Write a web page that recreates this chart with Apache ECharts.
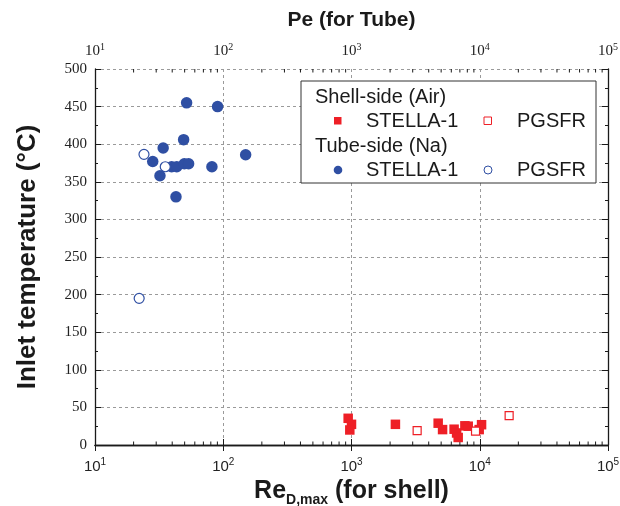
<!DOCTYPE html>
<html><head><meta charset="utf-8">
<script src="https://cdn.jsdelivr.net/npm/echarts@6/dist/echarts.min.js"></script>
<style>html,body{margin:0;padding:0;background:#fff}#c{width:620px;height:506px}</style>
</head><body><div id="c"></div>
<script>
// Shell-side (Air): [Re_D,max, inlet temperature °C]
const shellStella = [[942,35.5],[1000,27.5],[970,20],[2200,27.5],[4740,29],[5130,20.5],[6310,21],[6600,16],[6790,10],[7660,25.5],[8130,25],[9900,20.5],[10330,27]];
const shellPgsfr = [[3250,19],[9270,18.5],[16950,39]];
// Tube-side (Na): [Pe, inlet temperature °C]
const tubeStella = [[51.8,455],[90.3,450],[49.1,406],[34.0,395],[149.5,386],[28.2,377],[39.6,370],[43.4,370],[49.7,374],[53.7,374],[81.6,370],[32.1,358],[42.8,330]];
const tubePgsfr = [[24.1,386.5],[35.3,370],[22.1,195]];
// axis settings
const xMin = 10, xMax = 100000;
const yMin = 0, yMax = 500, yStep = 50;
const minorX = [];
for (let d = 10; d < xMax; d *= 10) for (let k = 2; k <= 9; k++) minorX.push(d * k);

const RED = '#ee1f26', BLUE = '#2f4fa3', AX = '#1a1a1a';
const serif = '"Liberation Serif", "Times New Roman", serif';
const sans = '"Liberation Sans", Arial, sans-serif';

function expLabel(v){ return '10{sup|' + Math.round(Math.log10(v)) + '}'; }

const chart = echarts.init(document.getElementById('c'), null, {renderer:'canvas'});
const gridLine = {show:true, lineStyle:{color:'#9a9a9a', type:[3,3], width:1}};
chart.setOption({
  animation:false,
  grid:{left:95, right:12, top:69, bottom:61, outerBoundsMode:'none', containLabel:false},
  xAxis:[
    {type:'log', min:xMin, max:xMax, logBase:10, position:'bottom',
     name:'Re{sub|D,max} (for shell)', nameLocation:'middle', nameGap:26,
     nameTextStyle:{fontFamily:sans, fontWeight:'bold', fontSize:25, color:'#1a1a1a',
       rich:{sub:{fontFamily:sans, fontWeight:'bold', fontSize:14, padding:[17,0,0,0], color:'#1a1a1a'}}},
     axisLine:{show:true, lineStyle:{color:AX, width:1.3}},
     axisTick:{show:true, inside:true, length:6, lineStyle:{color:AX}},
     axisLabel:{formatter:expLabel, fontFamily:sans, fontSize:15, color:'#222', margin:12,
       rich:{sup:{fontFamily:sans, fontSize:10, color:'#222', padding:[0,0,9,0]}}},
     splitLine:gridLine},
    {type:'log', min:xMin, max:xMax, logBase:10, position:'top',
     name:'Pe (for Tube)', nameLocation:'middle', nameGap:38,
     nameTextStyle:{fontFamily:sans, fontWeight:'bold', fontSize:21, color:'#1a1a1a'},
     axisLine:{show:true, lineStyle:{color:AX, width:1.3}},
     axisTick:{show:true, inside:true, length:6, lineStyle:{color:AX}},
     axisLabel:{formatter:expLabel, fontFamily:serif, fontSize:15, color:'#222', margin:8,
       rich:{sup:{fontFamily:serif, fontSize:10, color:'#222', padding:[0,0,9,0]}}},
     splitLine:{show:false}}
  ],
  yAxis:[
    {type:'value', min:yMin, max:yMax, interval:yStep, position:'left',
     name:'Inlet temperature (°C)', nameLocation:'middle', nameGap:54,
     nameTextStyle:{fontFamily:sans, fontWeight:'bold', fontSize:26, color:'#1a1a1a'},
     axisLine:{show:true, lineStyle:{color:AX, width:1.3}},
     axisTick:{show:true, inside:true, length:6, lineStyle:{color:AX}},
     minorTick:{show:true, splitNumber:2, length:3, lineStyle:{color:AX}},
     axisLabel:{fontFamily:serif, fontSize:15, color:'#222', margin:8},
     splitLine:gridLine},
    {type:'value', min:yMin, max:yMax, interval:yStep, position:'right',
     axisLine:{show:true, lineStyle:{color:AX, width:1.3}},
     axisTick:{show:true, inside:true, length:6, lineStyle:{color:AX}},
     minorTick:{show:true, splitNumber:2, length:3, lineStyle:{color:AX}},
     axisLabel:{show:false}, splitLine:{show:false}}
  ],
  series:[
    {type:'custom', xAxisIndex:0, yAxisIndex:0, silent:true, z:1,
     data:minorX.map(v=>[v]),
     renderItem:function(params, api){
       const v = api.value(0);
       const b = api.coord([v, yMin]), t = api.coord([v, yMax]);
       const st = {stroke:AX, lineWidth:1};
       return {type:'group', children:[
         {type:'line', shape:{x1:b[0], y1:b[1], x2:b[0], y2:b[1]-3.5}, style:st},
         {type:'line', shape:{x1:t[0], y1:t[1], x2:t[0], y2:t[1]+3.5}, style:st}
       ]};
     }},
    {name:'Tube STELLA-1', type:'scatter', xAxisIndex:1, yAxisIndex:0, data:tubeStella,
     symbol:'circle', symbolSize:11.5, itemStyle:{color:BLUE, opacity:1}, z:3},
    {name:'Tube PGSFR', type:'scatter', xAxisIndex:1, yAxisIndex:0, data:tubePgsfr,
     symbol:'circle', symbolSize:10, itemStyle:{color:'#fff', borderColor:BLUE, borderWidth:1.2, opacity:1}, z:4},
    {name:'Shell STELLA-1', type:'scatter', xAxisIndex:0, yAxisIndex:0, data:shellStella,
     symbol:'rect', symbolSize:9.5, itemStyle:{color:RED, opacity:1}, z:3},
    {name:'Shell PGSFR', type:'scatter', xAxisIndex:0, yAxisIndex:0, data:shellPgsfr,
     symbol:'rect', symbolSize:8, itemStyle:{color:'#fff', borderColor:RED, borderWidth:1.2, opacity:1}, z:4}
  ],
  graphic:[
    {type:'rect', z:50, shape:{x:301, y:81, width:295, height:102}, style:{fill:'#fff', stroke:'#333', lineWidth:1}},
    {type:'text', z:51, x:315, y:97, style:{text:'Shell-side (Air)', font:'20px "Liberation Sans", Arial, sans-serif', fill:'#1a1a1a', verticalAlign:'middle'}},
    {type:'rect', z:51, shape:{x:334, y:117, width:7.5, height:7.5}, style:{fill:RED}},
    {type:'text', z:51, x:366, y:121, style:{text:'STELLA-1', font:'20px "Liberation Sans", Arial, sans-serif', fill:'#1a1a1a', verticalAlign:'middle'}},
    {type:'rect', z:51, shape:{x:484, y:117, width:7.5, height:7.5}, style:{fill:'#fff', stroke:RED, lineWidth:1}},
    {type:'text', z:51, x:517, y:121, style:{text:'PGSFR', font:'20px "Liberation Sans", Arial, sans-serif', fill:'#1a1a1a', verticalAlign:'middle'}},
    {type:'text', z:51, x:315, y:146, style:{text:'Tube-side (Na)', font:'20px "Liberation Sans", Arial, sans-serif', fill:'#1a1a1a', verticalAlign:'middle'}},
    {type:'circle', z:51, shape:{cx:338, cy:170, r:4.3}, style:{fill:BLUE}},
    {type:'text', z:51, x:366, y:170, style:{text:'STELLA-1', font:'20px "Liberation Sans", Arial, sans-serif', fill:'#1a1a1a', verticalAlign:'middle'}},
    {type:'circle', z:51, shape:{cx:488, cy:170, r:4}, style:{fill:'#fff', stroke:BLUE, lineWidth:1}},
    {type:'text', z:51, x:517, y:170, style:{text:'PGSFR', font:'20px "Liberation Sans", Arial, sans-serif', fill:'#1a1a1a', verticalAlign:'middle'}}
  ]
});
</script></body></html>
